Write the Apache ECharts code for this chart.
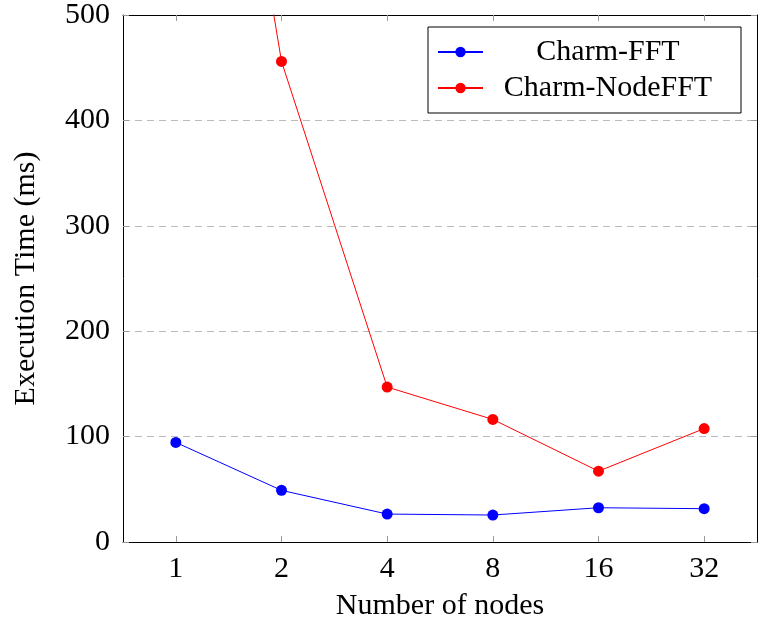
<!DOCTYPE html>
<html>
<head>
<meta charset="utf-8">
<script src="https://cdn.jsdelivr.net/npm/echarts@6/dist/echarts.min.js"></script>
<style>html,body{margin:0;padding:0;background:#fff;}#c{width:760px;height:626px;}</style>
</head>
<body>
<div id="c"></div>
<script>
var categories = ['1', '2', '4', '8', '16', '32'];
var charmFFT = [94.5, 49, 26.5, 25.6, 32.5, 31.6];
var charmNodeFFT = [1060, 456, 147, 116.3, 67.2, 107.6];
var yTicks = [0, 100, 200, 300, 400, 500];
var seriesNames = ['Charm-FFT', 'Charm-NodeFFT'];

var FONT = 'Liberation Serif';
var chart = echarts.init(document.getElementById('c'), null, {renderer: 'canvas'});
var tickStyle = {show: true, inside: true, length: 6, lineStyle: {color: '#999', width: 1}};
var lineAxis = {show: true, onZero: false, lineStyle: {color: '#000', width: 1}};
chart.setOption({
  animation: false,
  backgroundColor: '#fff',
  grid: {left: 123, right: 3, top: 11, bottom: 82, containLabel: false},
  legend: {
    orient: 'vertical',
    left: 428, top: 27,
    padding: [10, 13, 10, 9],
    itemGap: 6,
    itemWidth: 45, itemHeight: 13,
    borderColor: '#000', borderWidth: 1,
    backgroundColor: '#fff',
    data: seriesNames,
    formatter: function (n) { return '{a|' + n + '}'; },
    textStyle: {
      fontFamily: FONT, fontSize: 30, color: '#000',
      rich: {a: {fontFamily: FONT, fontSize: 30, width: 240, align: 'center', lineHeight: 30}}
    }
  },
  xAxis: [{
    type: 'category', data: categories, boundaryGap: true, position: 'bottom',
    axisLine: lineAxis,
    axisTick: Object.assign({alignWithLabel: true}, tickStyle),
    axisLabel: {fontFamily: FONT, fontSize: 30, color: '#000', margin: 12},
    name: 'Number of nodes', nameLocation: 'middle', nameGap: 49,
    nameTextStyle: {fontFamily: FONT, fontSize: 30, color: '#000'},
    splitLine: {show: false}
  }, {
    type: 'category', data: categories, boundaryGap: true, position: 'top',
    axisLine: lineAxis,
    axisTick: Object.assign({alignWithLabel: true}, tickStyle),
    axisLabel: {show: false}, splitLine: {show: false}
  }],
  yAxis: [{
    type: 'value', min: yTicks[0], max: yTicks[yTicks.length - 1], interval: 100,
    axisLine: lineAxis, axisTick: tickStyle,
    axisLabel: {fontFamily: FONT, fontSize: 30, color: '#000', margin: 13},
    name: 'Execution Time (ms)', nameLocation: 'middle', nameGap: 82,
    nameTextStyle: {fontFamily: FONT, fontSize: 30, color: '#000'},
    splitLine: {show: true, lineStyle: {color: '#bbb', width: 1, type: [7, 5]}}
  }, {
    type: 'value', min: yTicks[0], max: yTicks[yTicks.length - 1], interval: 100, position: 'right',
    axisLine: lineAxis, axisTick: tickStyle,
    axisLabel: {show: false}, splitLine: {show: false}
  }],
  series: [{
    name: seriesNames[0], type: 'line', data: charmFFT,
    symbol: 'circle', symbolSize: 11, showAllSymbol: true,
    itemStyle: {color: '#0000ff'}, lineStyle: {color: '#0000ff', width: 1}, clip: true
  }, {
    name: seriesNames[1], type: 'line', data: charmNodeFFT,
    symbol: 'circle', symbolSize: 11, showAllSymbol: true,
    itemStyle: {color: '#ff0000'}, lineStyle: {color: '#ff0000', width: 1}, clip: true
  }]
});
</script>
</body>
</html>
